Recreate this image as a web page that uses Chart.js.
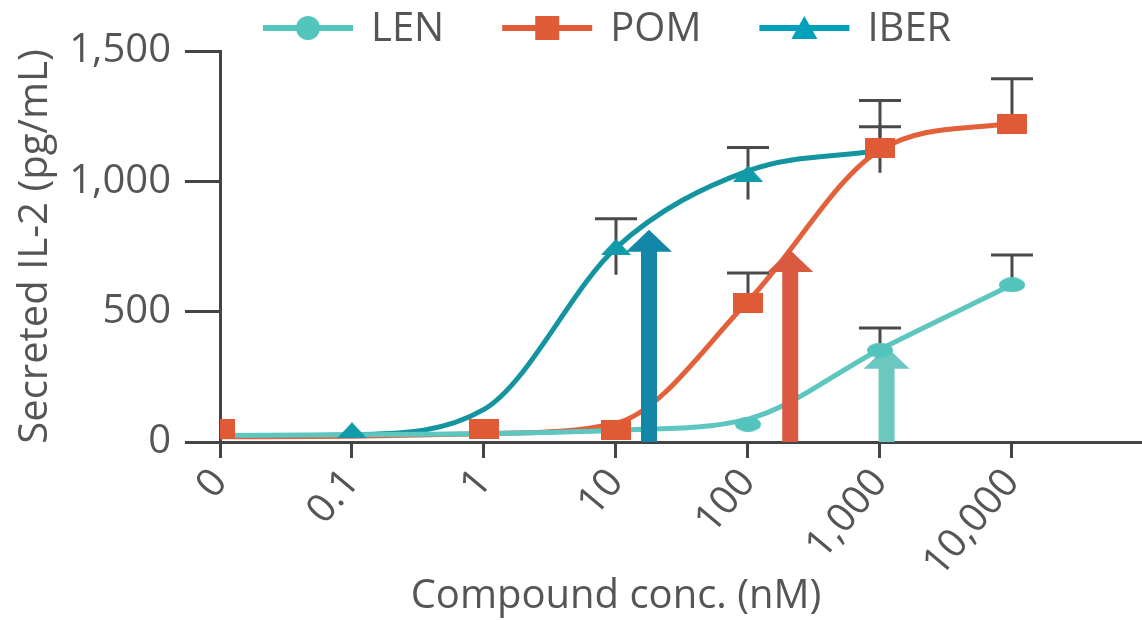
<!DOCTYPE html>
<html>
<head>
<meta charset="utf-8">
<script src="https://cdn.jsdelivr.net/npm/chart.js@4.4.1/dist/chart.umd.min.js"></script>
<style>
  html, body { margin: 0; padding: 0; background: #fff; }
  canvas { display: block; }
</style>
</head>
<body>
<canvas id="il2Chart" width="1142" height="620"></canvas>
<script>
var concLabels = ['0', '0.1', '1', '10', '100', '1,000', '10,000'];
var seriesNames = ['LEN', 'POM', 'IBER'];

// mean secreted IL-2 per concentration (pg/mL)
var lenMean  = [49, null, 49, 45, 68, 352, 603];
var pomMean  = [49, null, 49, 45, 532, 1129, 1221];
var iberMean = [49, 45, 49, 749, 1030, 1121, null];

// error bar size
var lenErr  = [0, 0, 0, 0, 0, 85, 114];
var pomErr  = [0, 0, 0, 0, 116, 181, 173];
var iberErr = [0, 0, 0, 107, 100, 88, null];

// fitted dose-response curves at each concentration
var lenFit  = [25, 28, 32, 45, 88, 355, 603];
var pomFit  = [20, 22, 32, 72, 540, 1120, 1225];
var iberFit = [22, 28, 125, 745, 1040, 1118, null];

// EC50 arrows: place on the concentration axis (category units) and tip value
var ec50Pos = [5.05, 4.32, 3.25];
var ec50Top = [365, 737, 814];

var lineColors  = ['#5cc6bf', '#e2603a', '#14949f'];
var markColors  = ['#52c4bd', '#e05a36', '#109aaa'];
var arrowColors = ['#6cc7c1', '#d95a40', '#1487a8'];
var legendColors = ['#52c5bd', '#e05c37', '#00a0bb'];
var markOrder = [1.2, 1.0, 1.1];
var textColor = '#555';
var axisColor = '#444';
var FONT = "'Open Sans', 'Noto Sans', sans-serif";

function toPoints(arr) {
  var pts = [];
  arr.forEach(function (v, i) { if (v !== null) pts.push({ x: i, y: v }); });
  return pts;
}

function shapeCanvas(shape, w, h, color) {
  var c = document.createElement('canvas');
  c.width = w; c.height = h;
  var g = c.getContext('2d');
  g.fillStyle = color;
  g.beginPath();
  if (shape === 'circle') g.ellipse(w / 2, h / 2, w / 2, h / 2, 0, 0, Math.PI * 2);
  else if (shape === 'rect') g.rect(0, 0, w, h);
  else { g.moveTo(w / 2, 0); g.lineTo(w, h); g.lineTo(0, h); g.closePath(); }
  g.fill();
  return c;
}

var shapes = ['circle', 'rect', 'triangle'];
var plotMarks = [
  shapeCanvas('circle', 26, 15, markColors[0]),
  shapeCanvas('rect', 30, 20, markColors[1]),
  shapeCanvas('triangle', 30, 16, markColors[2])
];

var means = [lenMean, pomMean, iberMean];
var errs = [lenErr, pomErr, iberErr];
var fits = [lenFit, pomFit, iberFit];
var errBothWays = [false, false, true];

var datasets = [];
fits.forEach(function (f, s) {
  datasets.push({
    label: seriesNames[s] + ' fit',
    data: toPoints(f),
    borderColor: lineColors[s],
    borderWidth: 5,
    pointRadius: 0,
    cubicInterpolationMode: 'monotone',
    order: 2
  });
});
means.forEach(function (m, s) {
  datasets.push({
    label: seriesNames[s],
    data: toPoints(m),
    showLine: false,
    pointStyle: plotMarks[s],
    pointRadius: 10,
    order: markOrder[s]
  });
});

var extras = {
  id: 'extras',
  afterDatasetDraw: function (chart, args) {
    // index 0 is the last fit line painted; errors and arrows go above the lines, under the markers
    if (args.index !== 0) return;
    var ctx = chart.ctx, xs = chart.scales.x, ys = chart.scales.y;
    ctx.save();
    // error bars
    ctx.strokeStyle = '#4a4a4a';
    ctx.lineWidth = 3;
    means.forEach(function (m, s) {
      m.forEach(function (v, i) {
        var e = errs[s][i];
        if (v === null || !e) return;
        var px = xs.getPixelForValue(i);
        var top = ys.getPixelForValue(v + e);
        var bot = ys.getPixelForValue(errBothWays[s] ? v - e : v);
        ctx.beginPath();
        ctx.moveTo(px, bot); ctx.lineTo(px, top);
        ctx.moveTo(px - 21, top); ctx.lineTo(px + 21, top);
        ctx.stroke();
      });
    });
    // EC50 arrows
    ec50Pos.forEach(function (p, s) {
      var px = xs.getPixelForValue(p);
      var tip = ys.getPixelForValue(ec50Top[s]);
      var base = ys.getPixelForValue(0);
      var headH = 22, headW = 23, shaft = 8;
      ctx.fillStyle = arrowColors[s];
      ctx.beginPath();
      ctx.moveTo(px - shaft, base);
      ctx.lineTo(px - shaft, tip + headH);
      ctx.lineTo(px - headW, tip + headH);
      ctx.lineTo(px, tip);
      ctx.lineTo(px + headW, tip + headH);
      ctx.lineTo(px + shaft, tip + headH);
      ctx.lineTo(px + shaft, base);
      ctx.closePath();
      ctx.fill();
    });
    ctx.restore();
  },
  afterDraw: function (chart) {
    var ctx = chart.ctx, xs = chart.scales.x;
    ctx.save();
    ctx.font = '40px ' + FONT;
    ctx.fillStyle = textColor;
    // x-axis title, centred under the concentration range
    ctx.textAlign = 'center';
    ctx.textBaseline = 'alphabetic';
    ctx.fillText('Compound conc. (nM)', xs.getPixelForValue(3), 608);
    // legend
    ctx.textAlign = 'left';
    ctx.textBaseline = 'middle';
    var x = 263, y = 28;
    seriesNames.forEach(function (name, s) {
      ctx.strokeStyle = legendColors[s];
      ctx.fillStyle = legendColors[s];
      ctx.lineWidth = 6;
      ctx.beginPath();
      ctx.moveTo(x, y); ctx.lineTo(x + 90, y);
      ctx.stroke();
      var mx = x + 45;
      ctx.beginPath();
      if (shapes[s] === 'circle') ctx.arc(mx, y, 12, 0, Math.PI * 2);
      else if (shapes[s] === 'rect') ctx.rect(mx - 12, y - 12, 24, 24);
      else { ctx.moveTo(mx, y - 12); ctx.lineTo(mx + 13, y + 11); ctx.lineTo(mx - 13, y + 11); ctx.closePath(); }
      ctx.fill();
      ctx.fillStyle = textColor;
      ctx.fillText(name, x + 108, y + 2);
      x += 108 + ctx.measureText(name).width + 58;
    });
    ctx.restore();
  }
};

new Chart(document.getElementById('il2Chart'), {
  type: 'line',
  data: { datasets: datasets },
  options: {
    responsive: false,
    devicePixelRatio: 1,
    animation: false,
    layout: { autoPadding: false, padding: { top: 51, left: 0, right: 0, bottom: 0 } },
    plugins: { legend: { display: false }, tooltip: { enabled: false } },
    scales: {
      x: {
        type: 'linear',
        min: 0,
        max: 6.985,
        afterBuildTicks: function (s) { s.ticks = concLabels.map(function (_, i) { return { value: i }; }); },
        afterFit: function (s) { s.height = 178; s.paddingRight = 0; s.paddingLeft = 0; },
        ticks: {
          callback: function (v) { return concLabels[v]; },
          autoSkip: false,
          minRotation: 50,
          maxRotation: 50,
          padding: 2,
          color: textColor,
          font: { family: FONT, size: 40 }
        },
        grid: { drawOnChartArea: false, tickLength: 16, tickWidth: 3, tickColor: axisColor },
        border: { color: axisColor, width: 3 }
      },
      y: {
        min: 0,
        max: 1500,
        afterFit: function (s) { s.width = 220; },
        ticks: {
          stepSize: 500,
          padding: 14,
          callback: function (v) { return v.toLocaleString('en-US'); },
          color: textColor,
          font: { family: FONT, size: 40 }
        },
        grid: { drawOnChartArea: false, tickLength: 35, tickWidth: 3, tickColor: axisColor },
        border: { color: axisColor, width: 3 },
        title: {
          display: true,
          text: 'Secreted IL-2 (pg/mL)',
          color: textColor,
          font: { family: FONT, size: 40 },
          padding: { top: 12, bottom: 0 }
        }
      }
    }
  },
  plugins: [extras]
});
</script>
</body>
</html>
